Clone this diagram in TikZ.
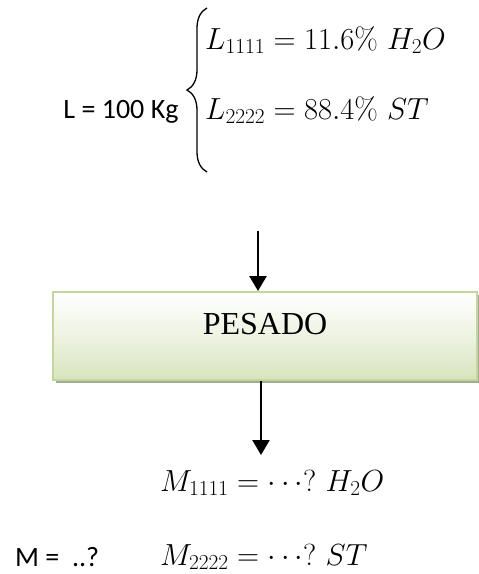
\documentclass[tikz,border=0pt]{standalone}
\usepackage{fix-cm}
\usepackage{amsmath}
\usepackage[no-math]{fontspec}
\newfontfamily\calibri{Carlito}
\newfontfamily\timesfont{Liberation Serif}
\usetikzlibrary{positioning,arrows.meta,shadows,decorations.pathreplacing}
\definecolor{cBoxTop}{HTML}{FFFFFF}
\definecolor{cBoxBot}{HTML}{D7E4BD}
\definecolor{cBorder}{HTML}{C3D69B}
\definecolor{cShadow}{HTML}{A3AB8E}

\begin{document}
\begin{tikzpicture}[
    x=1pt,y=-1pt,
    >={Triangle[length=15pt,width=17pt]},
    txt/.style ={font=\calibri\fontsize{28}{34}\selectfont,inner sep=0pt},
    eq/.style  ={font=\fontsize{30.5}{36}\selectfont,inner sep=0pt,anchor=west},
    proc/.style={draw=cBorder,line width=2pt,top color=cBoxTop,bottom color=cBoxBot,
                 middle color=cBoxTop!55!cBoxBot,
                 minimum width=424pt,inner xsep=0pt,inner ysep=0pt,
                 text height=42pt,text depth=46pt,
                 font=\timesfont\fontsize{32}{38}\selectfont,
                 drop shadow={shadow xshift=2.5pt,shadow yshift=-3pt,fill=cShadow,opacity=1}},
    ar/.style  ={->,line width=2.4pt},
  ]
  \useasboundingbox (0,0) rectangle (479,574);

  % ---------- INPUT ----------
  \node[txt] (lin) at (121,112) {L = 100 Kg};
  \coordinate (brb) at (207,172);
  \coordinate (brt) at (207,8);
  \draw[line width=1.3pt,decorate,decoration={brace,amplitude=20pt,aspect=0.5}] (brb) -- (brt);
  \node[eq] (l1) at (205,40)  {$L_{1111} = 11.6\%\ H_2O$};
  \node[eq] (l2) at (205,110) {$L_{2222} = 88.4\%\ ST$};

  % ---------- PROCESS ----------
  \node[proc] (pes) at (265,336) {PESADO};
  \coordinate (in) at (258,231);
  \draw[ar] (in) -- (in |- pes.north);

  % ---------- OUTPUT ----------
  \coordinate (out) at (261,455);
  \draw[ar] (out |- pes.south) -- (out);
  \node[eq] (m1) at (160,483) {$M_{1111} = \cdots ?\ H_2O$};
  \node[txt,anchor=west] (mout) at (15,557) {M =\ \ ..?};
  \node[eq] (m2) at (160,557) {$M_{2222} = \cdots ?\ ST$};

\end{tikzpicture}
\end{document}
